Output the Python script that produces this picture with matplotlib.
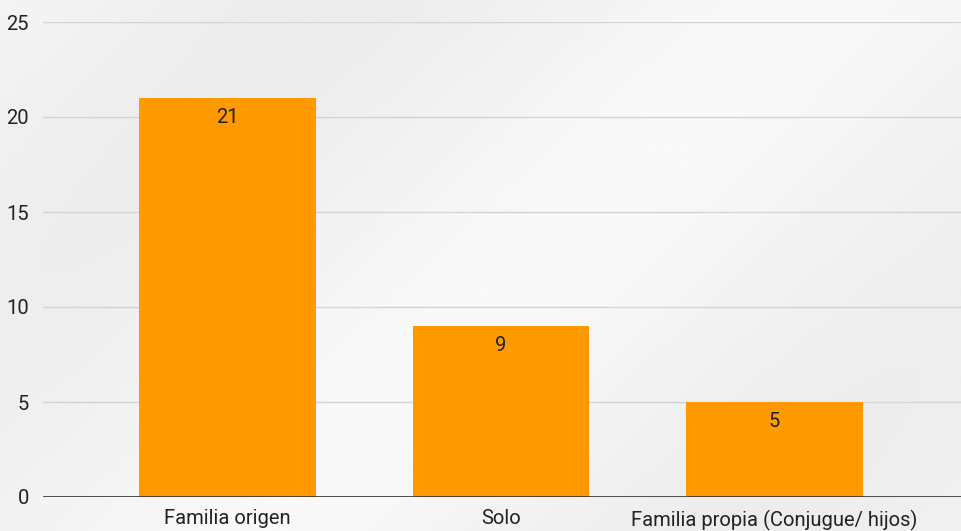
import matplotlib
matplotlib.use("Agg")
import matplotlib.pyplot as plt
import numpy as np

categories = ["Familia origen", "Solo", "Familia propia (Conjugue/ hijos)"]
values = [21, 9, 5]
yticks = [0, 5, 10, 15, 20, 25]

plt.rcParams['font.family'] = ['Roboto', 'DejaVu Sans']

fig = plt.figure(figsize=(9.62, 5.31), dpi=100)
fig.patch.set_facecolor('#f2f2f2')

# soft background gradient
bg = fig.add_axes([0, 0, 1, 1], zorder=-10)
yy, xx = np.mgrid[0:1:200j, 0:1:300j]
grad = 0.95 + 0.025 * np.sin(6 * (xx - 0.6 * yy)) * np.exp(-((xx - 0.5) ** 2))
bg.imshow(grad, cmap='gray', vmin=0, vmax=1, extent=[0, 1, 0, 1], aspect='auto', origin='lower')
bg.axis('off')

ax = fig.add_axes([43 / 962, 34 / 531, 1 - 43 / 962, (497 - 22) / 531])
ax.set_facecolor('none')
x = np.arange(len(categories))
bars = ax.bar(x, values, width=0.647, color='#ff9900', zorder=3)
for xi, v in zip(x, values):
    ax.annotate(str(v), (xi, v), xytext=(0, -7), textcoords='offset points',
                ha='center', va='top', fontsize=14.5, color='#222222', zorder=4)

ax.set_xlim(-0.675, 2.686)
ax.set_ylim(0, 25)
ax.set_yticks(yticks)
ax.set_xticks(x)
ax.set_xticklabels(categories)
ax.grid(axis='y', color='#d4d4d4', linewidth=1, zorder=0)
ax.axhline(0, color='#333333', linewidth=1.2, zorder=5)
for s in ax.spines.values():
    s.set_visible(False)
ax.tick_params(axis='both', length=0, labelsize=14.5, colors='#222222')
ax.tick_params(axis='y', pad=10)
ax.tick_params(axis='x', pad=9)

fig.savefig('out.png', dpi=100, facecolor=fig.get_facecolor())
